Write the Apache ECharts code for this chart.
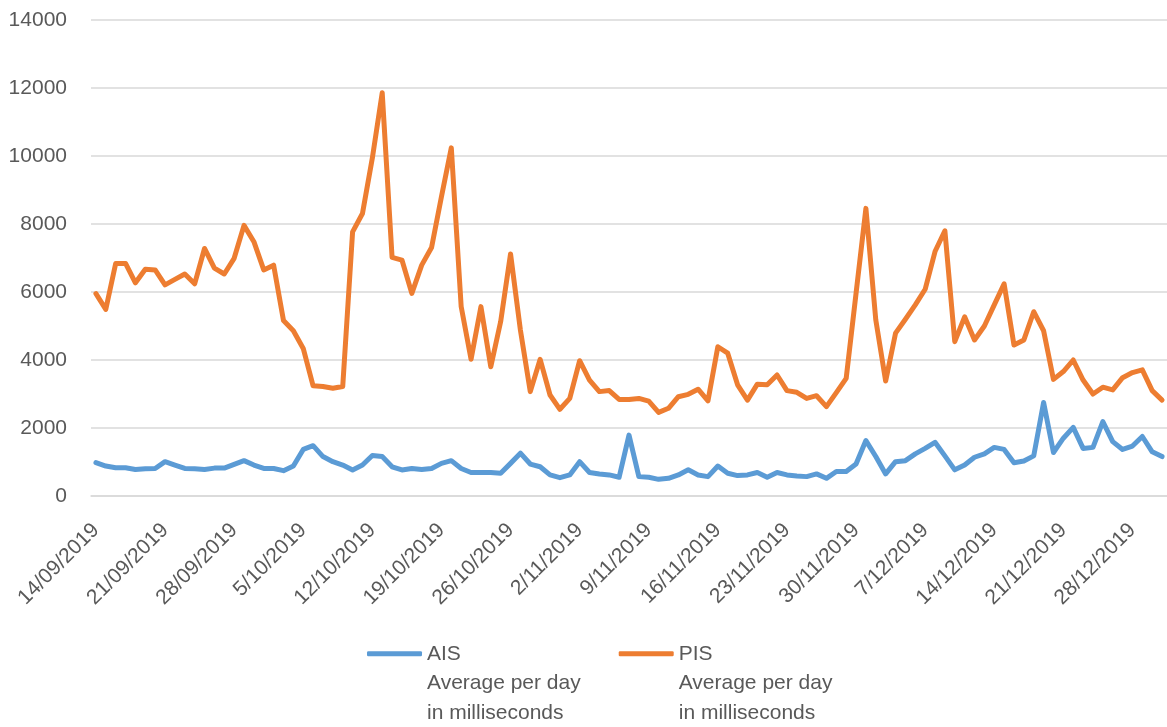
<!DOCTYPE html>
<html>
<head>
<meta charset="utf-8">
<script src="https://cdn.jsdelivr.net/npm/echarts@6/dist/echarts.min.js"></script>
<style>
  html, body { margin: 0; padding: 0; background: #fff; }
  #chart { width: 1167px; height: 727px; }
</style>
</head>
<body>
<div id="chart"></div>
<script>
// daily categories 14/09/2019 - 31/12/2019
const dates = [
  '14/09/2019','15/09/2019','16/09/2019','17/09/2019','18/09/2019','19/09/2019','20/09/2019',
  '21/09/2019','22/09/2019','23/09/2019','24/09/2019','25/09/2019','26/09/2019','27/09/2019',
  '28/09/2019','29/09/2019','30/09/2019','1/10/2019','2/10/2019','3/10/2019','4/10/2019',
  '5/10/2019','6/10/2019','7/10/2019','8/10/2019','9/10/2019','10/10/2019','11/10/2019',
  '12/10/2019','13/10/2019','14/10/2019','15/10/2019','16/10/2019','17/10/2019','18/10/2019',
  '19/10/2019','20/10/2019','21/10/2019','22/10/2019','23/10/2019','24/10/2019','25/10/2019',
  '26/10/2019','27/10/2019','28/10/2019','29/10/2019','30/10/2019','31/10/2019','1/11/2019',
  '2/11/2019','3/11/2019','4/11/2019','5/11/2019','6/11/2019','7/11/2019','8/11/2019',
  '9/11/2019','10/11/2019','11/11/2019','12/11/2019','13/11/2019','14/11/2019','15/11/2019',
  '16/11/2019','17/11/2019','18/11/2019','19/11/2019','20/11/2019','21/11/2019','22/11/2019',
  '23/11/2019','24/11/2019','25/11/2019','26/11/2019','27/11/2019','28/11/2019','29/11/2019',
  '30/11/2019','1/12/2019','2/12/2019','3/12/2019','4/12/2019','5/12/2019','6/12/2019',
  '7/12/2019','8/12/2019','9/12/2019','10/12/2019','11/12/2019','12/12/2019','13/12/2019',
  '14/12/2019','15/12/2019','16/12/2019','17/12/2019','18/12/2019','19/12/2019','20/12/2019',
  '21/12/2019','22/12/2019','23/12/2019','24/12/2019','25/12/2019','26/12/2019','27/12/2019',
  '28/12/2019','29/12/2019','30/12/2019','31/12/2019'
];

const aisValues = [
  980, 880, 830, 830, 780, 800, 810, 1010, 910, 810,
  800, 780, 820, 820, 930, 1040, 910, 810, 810, 745,
  880, 1370, 1480, 1160, 1010, 910, 765, 910, 1190, 1160,
  860, 765, 810, 780, 810, 960, 1040, 810, 690, 690,
  690, 670, 960, 1260, 940, 860, 620, 540, 620, 1010,
  690, 650, 620, 550, 1790, 570, 550, 490, 520, 620,
  770, 620, 570, 880, 670, 600, 620, 690, 550, 690,
  620, 590, 570, 650, 520, 720, 720, 940, 1630, 1160,
  650, 1010, 1040, 1240, 1400, 1580, 1180, 770, 910, 1140,
  1240, 1430, 1370, 980, 1030, 1180, 2750, 1280, 1700, 2020,
  1400, 1430, 2190, 1600, 1370, 1470, 1750, 1300, 1160
];

const pisValues = [
  5950, 5490, 6840, 6840, 6270, 6670, 6650, 6210, 6370, 6530,
  6240, 7280, 6700, 6530, 6990, 7960, 7480, 6650, 6790, 5160,
  4860, 4340, 3240, 3220, 3170, 3220, 7770, 8310, 9940, 11860,
  7020, 6940, 5960, 6790, 7310, 8800, 10240, 5570, 4020, 5570,
  3800, 5130, 7120, 4880, 3070, 4020, 2970, 2550, 2870, 3980,
  3410, 3070, 3100, 2840, 2840, 2870, 2790, 2460, 2580, 2920,
  2990, 3140, 2800, 4390, 4200, 3270, 2820, 3290, 3270, 3560,
  3100, 3050, 2870, 2950, 2630, 3040, 3460, 5960, 8460, 5180,
  3380, 4790, 5200, 5620, 6080, 7190, 7800, 4540, 5270, 4590,
  5000, 5620, 6240, 4440, 4590, 5420, 4860, 3430, 3660, 4000,
  3410, 3000, 3200, 3120, 3480, 3630, 3710, 3100, 2820
];

const aisName = 'AIS\nAverage per day\nin milliseconds';
const pisName = 'PIS\nAverage per day\nin milliseconds';

const fontFamily = '"Liberation Sans", Arial, sans-serif';
const lineH = 29.5;

var myChart = echarts.init(document.getElementById('chart'));
myChart.setOption({
  animation: false,
  textStyle: { fontFamily: fontFamily },
  grid: { left: 91, right: 0, top: 20, bottom: 231 },
  legend: {
    left: 367,
    top: 580,
    padding: 0,
    itemGap: 38,
    itemWidth: 55,
    itemHeight: 5,
    icon: 'roundRect',
    // two blank lines first so the series name sits level with the icon
    formatter: function (name) { return '\n\n' + name; },
    textStyle: {
      color: '#595959',
      fontSize: 21,
      lineHeight: lineH
    },
    data: [aisName, pisName]
  },
  xAxis: {
    type: 'category',
    data: dates,
    boundaryGap: true,
    axisLine: { lineStyle: { color: '#D9D9D9', width: 1.5 } },
    axisTick: { interval: 6, length: 6, lineStyle: { color: '#D9D9D9', width: 1.5 } },
    axisLabel: {
      interval: 6,
      rotate: 45,
      margin: 31,
      color: '#595959',
      fontSize: 21
    },
    splitLine: { show: false }
  },
  yAxis: {
    type: 'value',
    min: 0,
    max: 14000,
    interval: 2000,
    axisLine: { show: false },
    axisTick: { show: false },
    axisLabel: {
      margin: 24,
      color: '#595959',
      fontSize: 21,
      formatter: function (v) { return String(v); }
    },
    splitLine: { lineStyle: { color: '#D9D9D9', width: 1.5 } }
  },
  series: [
    {
      name: aisName,
      type: 'line',
      data: aisValues,
      symbol: 'none',
      color: '#5B9BD5',
      lineStyle: { width: 5, color: '#5B9BD5', cap: 'round', join: 'round' }
    },
    {
      name: pisName,
      type: 'line',
      data: pisValues,
      symbol: 'none',
      color: '#ED7D31',
      lineStyle: { width: 5, color: '#ED7D31', cap: 'round', join: 'round' }
    }
  ]
});
</script>
</body>
</html>
